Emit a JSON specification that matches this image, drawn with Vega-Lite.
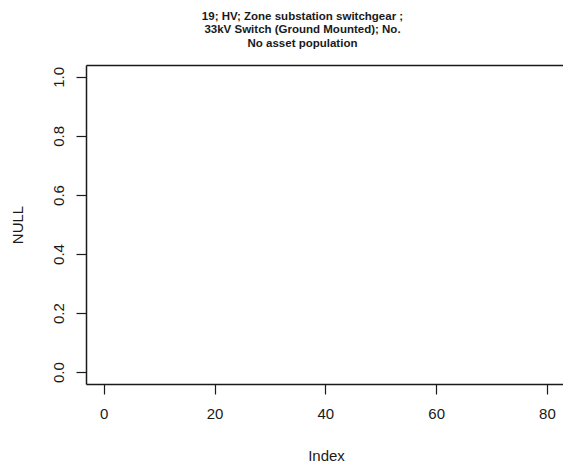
{
  "$schema": "https://vega.github.io/schema/vega-lite/v6.json",
  "width": 477,
  "height": 319,
  "autosize": {"type": "none"},
  "padding": {"left": 86, "top": 65, "right": 0, "bottom": 84},
  "background": "white",
  "config": {
    "view": {"stroke": null},
    "font": "Liberation Sans",
    "axis": {
      "domainColor": "#1a1a1a",
      "domainWidth": 1.5,
      "tickColor": "#1a1a1a",
      "tickWidth": 1.2,
      "tickSize": 10,
      "grid": false,
      "labelFont": "Liberation Sans",
      "labelFontSize": 15,
      "labelColor": "#1a1a1a",
      "titleFont": "Liberation Sans",
      "titleFontSize": 15,
      "titleFontWeight": "normal",
      "titleColor": "#1a1a1a"
    }
  },
  "title": {
    "text": ["19; HV; Zone substation switchgear ;", "33kV Switch (Ground Mounted); No.", "No asset population"],
    "font": "Liberation Sans",
    "fontSize": 11.5,
    "fontWeight": "bold",
    "color": "#1a1a1a",
    "anchor": "middle",
    "dx": -22,
    "offset": 16,
    "lineHeight": 13.5
  },
  "data": {"values": []},
  "layer": [
    {
      "mark": {"type": "point", "opacity": 0},
      "encoding": {
        "x": {
          "field": "index",
          "type": "quantitative",
          "scale": {"domain": [-3.2, 82.9], "nice": false, "zero": false},
          "axis": {
            "orient": "bottom",
            "values": [0, 20, 40, 60, 80],
            "format": "d",
            "labelPadding": 12,
            "title": "Index",
            "titleX": 240,
            "titleY": 71,
            "titleBaseline": "middle",
            "titleAlign": "center"
          }
        },
        "y": {
          "field": "value",
          "type": "quantitative",
          "scale": {"domain": [-0.04, 1.04], "nice": false, "zero": false},
          "axis": {
            "orient": "left",
            "values": [0, 0.2, 0.4, 0.6, 0.8, 1.0],
            "format": ".1f",
            "labelAngle": -90,
            "labelAlign": "center",
            "labelBaseline": "bottom",
            "labelPadding": 10,
            "title": "NULL",
            "titleX": -69,
            "titleY": 159.5,
            "titleAngle": -90,
            "titleBaseline": "middle",
            "titleAlign": "center"
          }
        }
      }
    },
    {
      "mark": {"type": "point", "opacity": 0},
      "encoding": {
        "x": {
          "field": "index",
          "type": "quantitative",
          "axis": {"orient": "top", "labels": false, "ticks": false, "title": null}
        }
      }
    }
  ],
  "resolve": {"axis": {"x": "independent"}}
}
